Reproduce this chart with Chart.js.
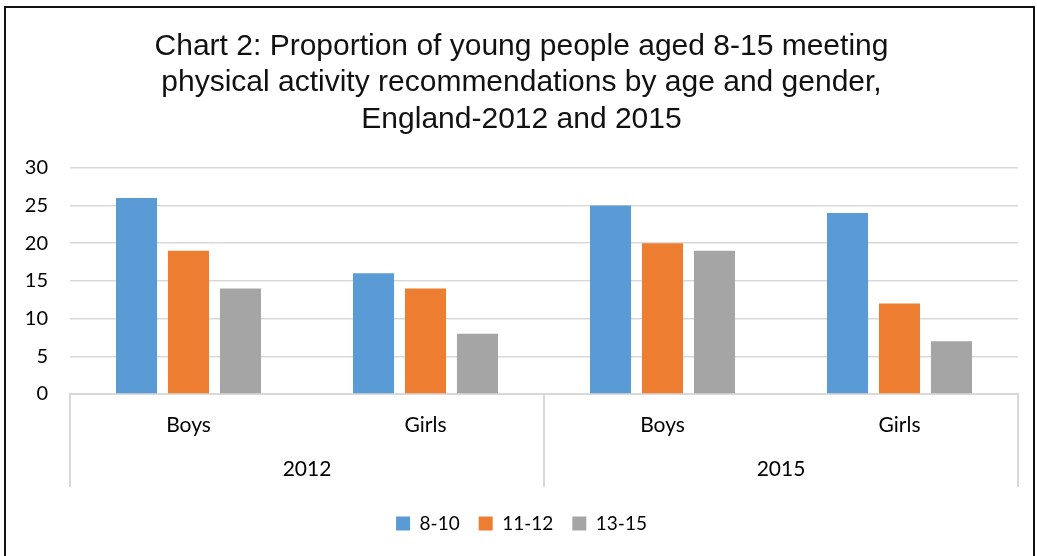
<!DOCTYPE html>
<html>
<head>
<meta charset="utf-8">
<title>Chart 2</title>
<script src="https://cdn.jsdelivr.net/npm/chart.js@4.4.0/dist/chart.umd.min.js"></script>
<style>
  html, body { margin: 0; padding: 0; background: #fff; overflow: hidden; }
  #frame { position: absolute; left: 4px; top: 6px; width: 1027px; height: 600px; border: 2px solid #111; }
  #wrap { position: absolute; left: 0; top: 0; width: 1037px; height: 556px; }
</style>
</head>
<body>
<div id="frame"></div>
<div id="wrap"><canvas id="chart" width="1037" height="556"></canvas></div>
<script>
// categories and series
const genders = ['Boys', 'Girls', 'Boys', 'Girls'];
const years = ['2012', '2015'];
const ageGroups = ['8-10', '11-12', '13-15'];
const age8to10 = [26, 16, 25, 24];
const age11to12 = [19, 14, 20, 12];
const age13to15 = [14, 8, 19, 7];
const yMax = 30;
const yStep = 5;

const colors = ['#5B9BD5', '#ED7D31', '#A5A5A5'];
const gridGrey = '#d9d9d9';
const fontFamily = 'Lato, "Liberation Sans", sans-serif';
const axisFont = { family: fontFamily, size: 21 };
const valueFont = { family: fontFamily, size: 20 };
const legendFont = { family: fontFamily, size: 19 };

const makeSet = (label, data, color) => ({
    label: label,
    data: data,
    backgroundColor: color,
    borderWidth: 0,
    categoryPercentage: 0.658,
    barPercentage: 0.79,
    xAxisID: 'x'
});

const ctx = document.getElementById('chart').getContext('2d');

new Chart(ctx, {
    type: 'bar',
    data: {
        labels: genders,
        datasets: [
            makeSet(ageGroups[0], age8to10, colors[0]),
            makeSet(ageGroups[1], age11to12, colors[1]),
            makeSet(ageGroups[2], age13to15, colors[2])
        ]
    },
    options: {
        responsive: false,
        animation: false,
        layout: { padding: { left: 25, right: 19, top: 10, bottom: 13 } },
        plugins: {
            title: {
                display: true,
                text: [
                    'Chart 2: Proportion of young people aged 8-15 meeting',
                    'physical activity recommendations by age and gender,',
                    'England-2012 and 2015'
                ],
                color: '#111',
                font: { family: '"Liberation Sans", sans-serif', size: 30, weight: 'normal', lineHeight: 1.22 },
                padding: { top: 18, bottom: 30 }
            },
            legend: {
                position: 'bottom',
                labels: {
                    boxWidth: 14,
                    boxHeight: 14,
                    padding: 19,
                    color: '#000',
                    font: legendFont
                }
            },
            tooltip: { enabled: false }
        },
        scales: {
            y: {
                min: 0,
                max: yMax,
                ticks: { stepSize: yStep, padding: 22, color: '#000', font: valueFont },
                grid: { color: gridGrey, lineWidth: 1.5, drawTicks: false },
                border: { display: false },
                afterFit: (scale) => { scale.width = 45; }
            },
            // gender row, dividers only at the year boundaries
            x: {
                position: 'bottom',
                grid: {
                    drawOnChartArea: false,
                    drawTicks: true,
                    tickLength: 46,
                    offset: true,
                    lineWidth: 2,
                    color: (c) => (c.index === undefined || c.index % 2 === 0 ? gridGrey : 'rgba(0,0,0,0)')
                },
                border: { display: true, color: gridGrey, width: 2 },
                ticks: { padding: -27, color: '#000', font: axisFont },
                afterFit: (scale) => { scale.height = 46; }
            },
            // year row
            x2: {
                type: 'category',
                labels: years,
                position: 'bottom',
                offset: true,
                grid: {
                    drawOnChartArea: false,
                    drawTicks: true,
                    tickLength: 47,
                    offset: true,
                    lineWidth: 2,
                    color: gridGrey
                },
                border: { display: false },
                ticks: { padding: -30, color: '#000', font: axisFont },
                afterFit: (scale) => { scale.height = 55; }
            }
        }
    }
});
</script>
</body>
</html>
